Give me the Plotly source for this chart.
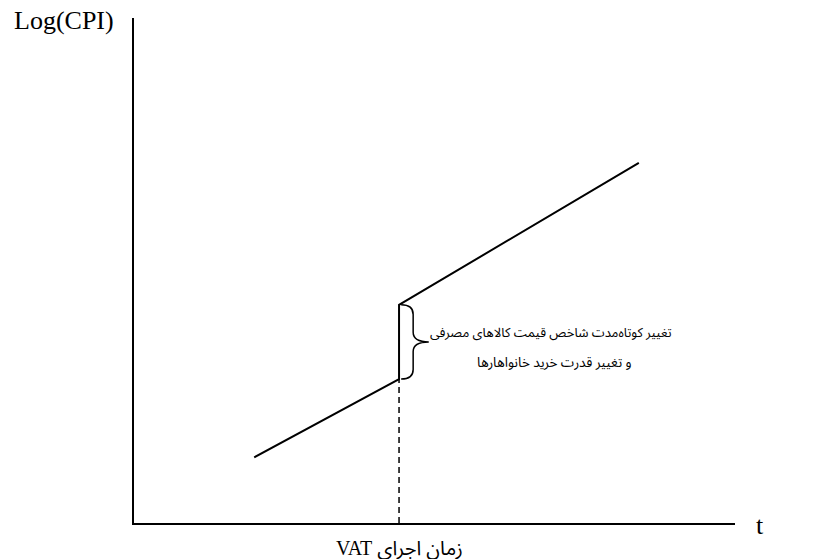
import plotly.graph_objects as go

# Schematic values (arbitrary units, axes run 0..100)
t_before = [20.0, 44.1]
cpi_before = [13.0, 28.5]
t_after = [44.1, 84.0]
cpi_after = [43.2, 71.3]
vat_time = 44.1

y_label = "Log(CPI)"
x_label = "t"
vat_label = "\u202bزمان اجرای VAT\u202c"
note_lines = [
    "تغییر کوتاه\u200cمدت شاخص قیمت کالاهای مصرفی",
    "و تغییر قدرت خرید خانواهارها",
]

serif = "Liberation Serif, Times New Roman, serif"
persian = "Liberation Serif, Noto Sans Arabic, Noto Naskh Arabic, DejaVu Sans, sans-serif"

fig = go.Figure()

# CPI path with the jump at VAT time
fig.add_trace(
    go.Scatter(
        x=t_before + t_after,
        y=cpi_before + cpi_after,
        mode="lines",
        line=dict(color="black", width=2),
        hoverinfo="skip",
    )
)

# dashed drop line down to the time axis
fig.add_trace(
    go.Scatter(
        x=[vat_time, vat_time],
        y=[0, cpi_before[-1]],
        mode="lines",
        line=dict(color="black", width=1.5, dash="6px,4px"),
        hoverinfo="skip",
    )
)

# curly brace next to the jump
low, up = cpi_before[-1], cpi_after[0]
mid = (low + up) / 2
bx = vat_time + 0.35
w1 = 2.0
tip = 4.6
dy = 1.9
brace = (
    f"M {bx},{up} Q {bx + w1},{up} {bx + w1},{up - dy} "
    f"L {bx + w1},{mid + dy} Q {bx + w1},{mid} {bx + tip},{mid} "
    f"Q {bx + w1},{mid} {bx + w1},{mid - dy} "
    f"L {bx + w1},{low + dy} Q {bx + w1},{low} {bx},{low}"
)
fig.add_shape(
    type="path", path=brace, xref="x", yref="y",
    line=dict(color="black", width=1.5),
)

fig.add_annotation(
    x=69.4, y=37.6, xref="x", yref="y", text=note_lines[0],
    showarrow=False, font=dict(family=persian, size=13, color="black"),
)
fig.add_annotation(
    x=70.0, y=31.6, xref="x", yref="y", text=note_lines[1],
    showarrow=False, font=dict(family=persian, size=13.5, color="black"),
)
fig.add_annotation(
    x=vat_time, y=0, xref="x", yref="y", text=vat_label,
    showarrow=False, yanchor="middle", yshift=-25,
    font=dict(family=persian, size=20, color="black"),
)
fig.add_annotation(
    x=-0.1165, y=0.996, xref="paper", yref="paper", text=y_label,
    xanchor="center", yanchor="middle",
    showarrow=False, font=dict(family=serif, size=26, color="black"),
)
fig.add_annotation(
    x=1.0416, y=-0.004, xref="paper", yref="paper", text=x_label,
    xanchor="center", yanchor="middle",
    showarrow=False, font=dict(family=serif, size=26, color="black"),
)

fig.update_xaxes(
    range=[0, 100], showgrid=False, zeroline=False, showticklabels=False,
    ticks="", showline=True, linecolor="black", linewidth=2,
)
fig.update_yaxes(
    range=[0, 100], showgrid=False, zeroline=False, showticklabels=False,
    ticks="", showline=True, linecolor="black", linewidth=2,
)
fig.update_layout(
    width=834, height=559,
    margin=dict(l=134, r=99, t=18, b=36),
    plot_bgcolor="white", paper_bgcolor="white",
    showlegend=False,
)

# drop the default 8px page margin so the figure fills the window
fig.write_html(
    "out.html",
    config={"displayModeBar": False},
    post_script="document.body.style.margin='0';",
)
